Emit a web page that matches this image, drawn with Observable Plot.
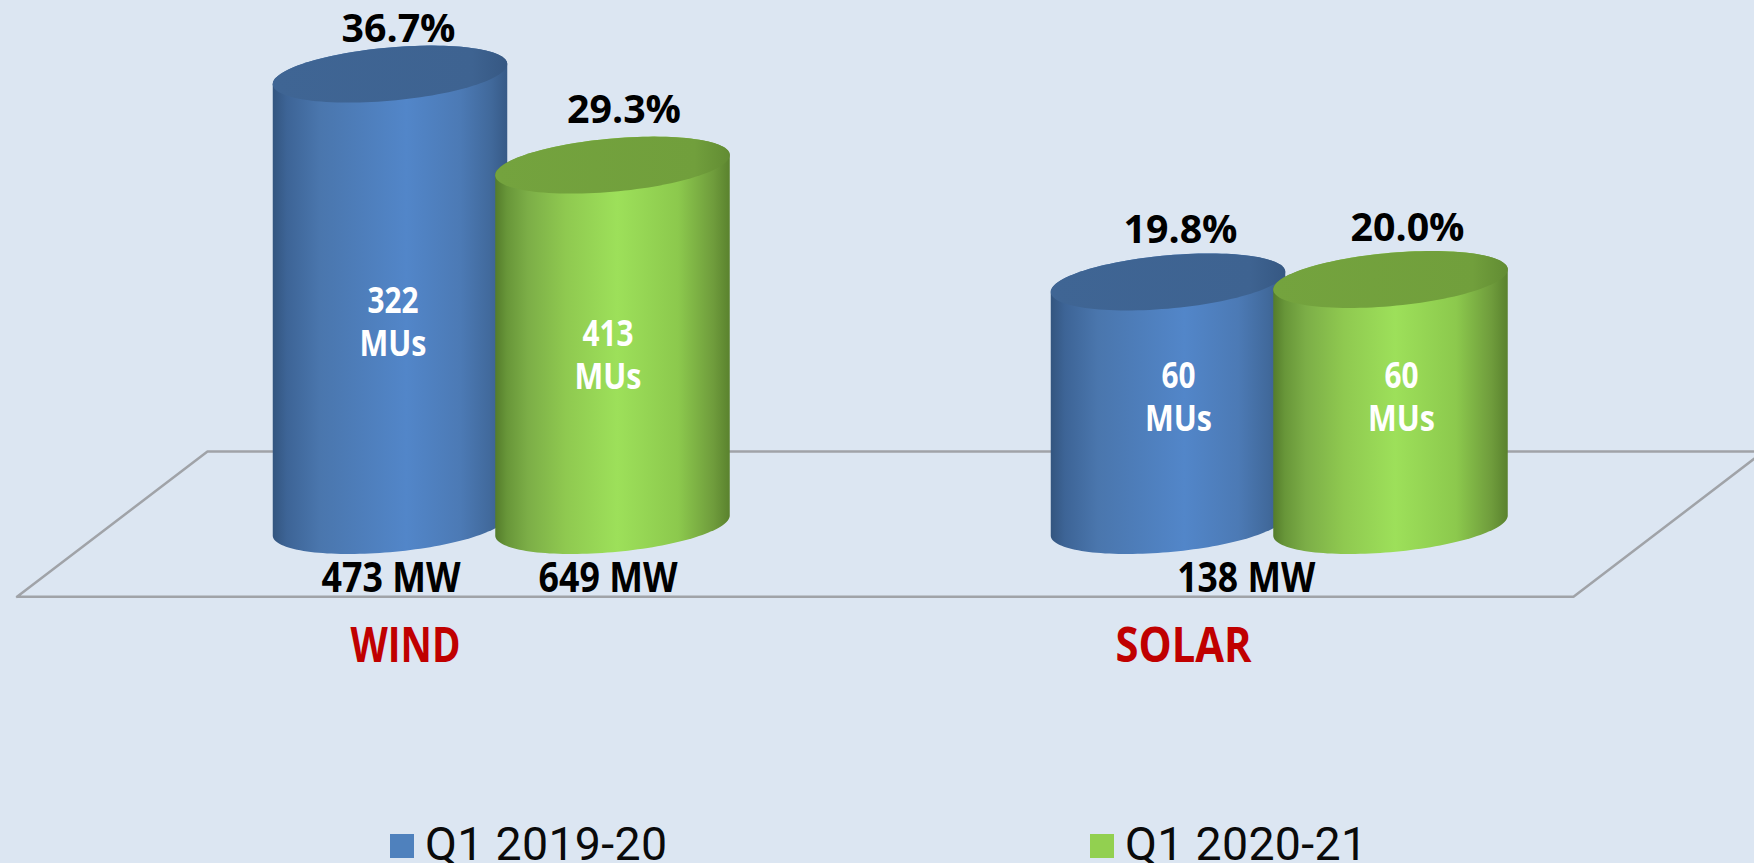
<!DOCTYPE html>
<html>
<head>
<meta charset="utf-8">
<script src="https://cdn.jsdelivr.net/npm/d3@7"></script>
<script src="https://cdn.jsdelivr.net/npm/@observablehq/plot@0.6"></script>
<style>
  html, body { margin: 0; padding: 0; background: #DCE6F2; overflow: hidden; }
  #legend { position: relative; height: 45px; font-family: Roboto, sans-serif; font-size: 46.5px; font-weight: 400; letter-spacing: 0.3px; color: #0a0a0a; }
  #legend i { position: absolute; top: 16px; width: 24px; height: 24px; }
  #legend span { position: absolute; top: 6px; line-height: 40px; white-space: nowrap; }
</style>
</head>
<body>
<div id="chart"></div>
<div id="legend"></div>
<script>
const categories = ["WIND", "SOLAR"];
const periods = ["Q1 2019-20", "Q1 2020-21"];
const windShare = [36.7, 29.3];
const solarShare = [19.8, 20.0];
const windMUs = [322, 413];
const solarMUs = [60, 60];
const windMW = [473, 649];
const solarMW = [138];

const shares = [windShare, solarShare];
const units = [windMUs, solarMUs];

// layout, in scale units (x: 0 = WIND group, 1 = SOLAR group; y: the share in %)
const W = 1754, H = 818;
const pxPerX = 778, pxPerY = 12.3, x0 = 500.75, y0 = 525;
const xDomain = [(0 - x0) / pxPerX, (W - x0) / pxPerX];
const yDomain = [(y0 - H) / pxPerY, y0 / pxPerY];
const halfW = 117.25 / pxPerX, halfH = 28.5 / pxPerY, tilt = -0.36, shift = 111.25 / pxPerX;
const floorCorners = [[-0.6224, -5.8], [-0.3776, 6.02], [1.6228, 6.02], [1.3782, -5.8], [-0.6224, -5.8]];

const angles = (a, b, n = 72) => d3.range(n + 1).map(i => a + (b - a) * i / n);
const outline = (cx, cv, ts) => ts.map(t => ({x: cx + halfW * Math.cos(t), y: cv - halfH * Math.sin(t + tilt)}));

function body(cx, v, id) {
  return [...outline(cx, 0, angles(0, Math.PI)), ...outline(cx, v, angles(Math.PI, 2 * Math.PI))].map(p => ({...p, id}));
}
function cap(cx, v, id) {
  return outline(cx, v, angles(0, 2 * Math.PI, 120)).map(p => ({...p, id}));
}

function svgEl(name, attrs, kids = []) {
  const e = document.createElementNS("http://www.w3.org/2000/svg", name);
  for (const k in attrs) e.setAttribute(k, attrs[k]);
  kids.forEach(c => e.appendChild(c));
  return e;
}
function gradient(id, stops) {
  return svgEl("linearGradient", {id, x1: 0, x2: 1, y1: 0, y2: 0},
    stops.map(([o, c]) => svgEl("stop", {offset: o, "stop-color": c})));
}
const defs = () => svgEl("defs", {}, [
  gradient("bodyBlue", [[0, "#33557f"], [0.06, "#3d6496"], [0.2, "#4a76ad"], [0.57, "#5286c9"], [0.8, "#4c7ab5"], [0.93, "#41699b"], [1, "#375a87"]]),
  gradient("bodyGreen", [[0, "#547c2b"], [0.05, "#689639"], [0.14, "#7cae47"], [0.3, "#8fc950"], [0.52, "#9de05a"], [0.78, "#8cc94d"], [0.93, "#6f9c3c"], [1, "#5a822e"]]),
  gradient("capBlue", [[0, "#3f6594"], [0.85, "#3e6391"], [1, "#365883"]]),
  gradient("capGreen", [[0, "#74a33e"], [0.85, "#719f3c"], [1, "#628c33"]])
]);

const font = "'Open Sans', sans-serif";
const marks = [defs];

marks.push(Plot.line(floorCorners, {x: d => d[0], y: d => d[1], stroke: "#a0a3a8", strokeWidth: 2.5, strokeLinejoin: "miter"}));

["Blue", "Green"].forEach((c, s) => {
  const dir = s === 0 ? -1 : 1;
  const bodies = categories.flatMap((_, g) => body(g + dir * shift, shares[g][s], `${g}`));
  const caps = categories.flatMap((_, g) => cap(g + dir * shift, shares[g][s], `${g}`));
  marks.push(Plot.line(bodies, {x: "x", y: "y", z: "id", fill: `url(#body${c})`, stroke: "none"}));
  marks.push(Plot.line(caps, {x: "x", y: "y", z: "id", fill: `url(#cap${c})`, stroke: "none"}));
});

const textWidths = {};
const label = (text, x, y, dx, dy, fontSize, fill, widths, lineHeight = 1) => {
  text.split("\n").forEach((t, i) => { textWidths[t] = widths[i]; });
  return Plot.text([text], {x: () => x, y: () => y, text: d => d, dx, dy, fontSize, lineHeight, fontWeight: 700, fontFamily: font, fill, textAnchor: "middle", lineAnchor: "middle"});
};
const centre = (g, s) => g + (s === 0 ? -1 : 1) * shift;

// percentage labels: offset from the top of each cylinder
const pctOffsets = [[[8.5, -45], [11.5, -55]], [[12.5, -51.5], [17, -50.5]]];
categories.forEach((name, g) => {
  [0, 1].forEach(s => {
    const v = shares[g][s];
    marks.push(label(`${v.toFixed(1)}%`, centre(g, s), v, pctOffsets[g][s][0], pctOffsets[g][s][1], 39, "#000", [114]));
  });
});

// output labels: offset from the floor of each cylinder
const muOffsets = [[[3, -204.5], [-4.5, -171.5]], [[10.5, -130], [11, -130]]];
categories.forEach((name, g) => {
  [0, 1].forEach(s => {
    const mu = units[g][s];
    marks.push(label(`${mu}\nMUs`, centre(g, s), 0, muOffsets[g][s][0], muOffsets[g][s][1], 35, "#fff", [mu >= 100 ? 51 : 34, 67], 1.23));
  });
});

marks.push(label(`${windMW[0]} MW`, centre(0, 0), 0, 1, 53, 42, "#000", [139]));
marks.push(label(`${windMW[1]} MW`, centre(0, 1), 0, -4.5, 53, 42, "#000", [139]));
marks.push(label(`${solarMW[0]} MW`, 1, 0, -33, 53, 42, "#000", [138]));

categories.forEach((name, g) => {
  marks.push(label(name, g, 0, -95.75, 121.5, 48, "#C00000", [name === "WIND" ? 110 : 136]));
});

const chart = Plot.plot({
  width: W, height: H,
  margin: 0,
  x: {domain: xDomain, range: [0, W], axis: null},
  y: {domain: yDomain, range: [H, 0], axis: null},
  style: {background: "#DCE6F2"},
  marks
});
d3.select(chart).style("overflow", "hidden");
d3.select(chart).selectAll("text, tspan").each(function () {
  if (this.tagName === "text" && this.querySelector("tspan")) return;
  const w = textWidths[this.textContent];
  if (w) { this.setAttribute("textLength", w); this.setAttribute("lengthAdjust", "spacingAndGlyphs"); }
});
document.getElementById("chart").appendChild(chart);

const legend = document.getElementById("legend");
[[390, 425, "#4F81BD"], [1090, 1125, "#92D050"]].forEach(([sx, tx, color], i) => {
  const sw = document.createElement("i");
  sw.style.left = sx + "px"; sw.style.background = color;
  const t = document.createElement("span");
  t.style.left = tx + "px"; t.textContent = periods[i];
  legend.append(sw, t);
});
</script>
</body>
</html>
